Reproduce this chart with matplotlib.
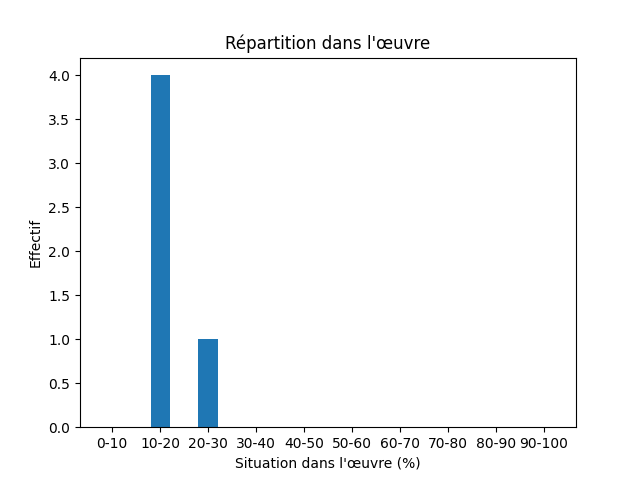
import matplotlib
matplotlib.use('Agg')
import matplotlib.pyplot as plt

# Tranches de position dans l'œuvre et effectifs
tranches = ['0-10', '10-20', '20-30', '30-40', '40-50',
            '50-60', '60-70', '70-80', '80-90', '90-100']
effectifs = [0, 4, 1, 0, 0, 0, 0, 0, 0, 0]

fig, ax = plt.subplots(figsize=(6.4, 4.8), dpi=100)
ax.bar(tranches, effectifs, width=0.4, color='#1f77b4')
ax.set_xlabel("Situation dans l'œuvre (%)")
ax.set_ylabel('Effectif')
ax.set_title("Répartition dans l'œuvre")

fig.savefig('out.png')
